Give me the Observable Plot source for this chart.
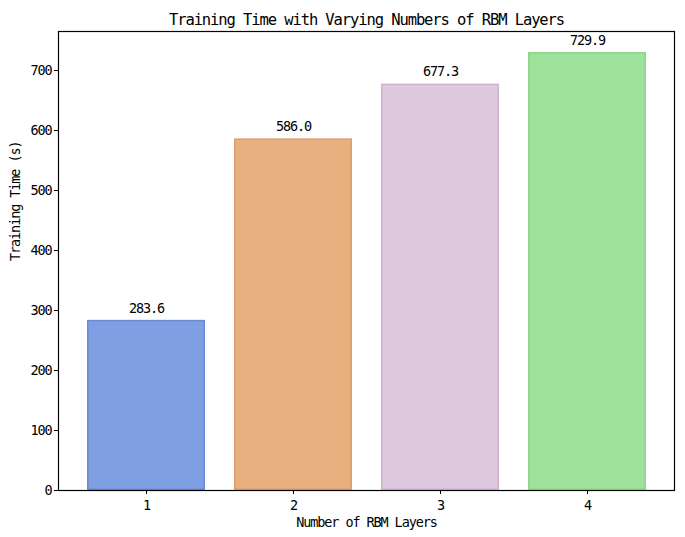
<!DOCTYPE html>
<html>
<head>
<meta charset="utf-8">
<script src="https://cdn.jsdelivr.net/npm/d3@7"></script>
<script src="https://cdn.jsdelivr.net/npm/@observablehq/plot@0.6"></script>
<style>
  body { margin: 0; background: #fff; }
  #chart svg { display: block; }
</style>
</head>
<body>
<div id="chart"></div>
<script>
const layers = ["1", "2", "3", "4"];
const times = [283.6, 586.0, 677.3, 729.9];
const fills = ["#7f9fe2", "#e9b07f", "#dfc9df", "#9fe29b"];
const edges = ["#6a8ad8", "#dc9e6c", "#cfb2cd", "#8bd687"];
const yTicks = [0, 100, 200, 300, 400, 500, 600, 700];
const titleText = "Training Time with Varying Numbers of RBM Layers";
const xLabel = "Number of RBM Layers";
const yLabel = "Training Time (s)";

const data = layers.map((l, i) => ({layer: l, time: times[i], fill: fills[i], edge: edges[i]}));
const font = "'DejaVu Sans Mono', monospace";

const plot = Plot.plot({
  width: 685,
  height: 537,
  marginLeft: 58,
  marginRight: 11,
  marginTop: 31,
  marginBottom: 47,
  style: {fontFamily: font, fontSize: "13.5px", letterSpacing: "-1.1px", color: "#000", background: "#fff"},
  x: {type: "band", domain: layers, paddingInner: 0.2, paddingOuter: 0.19, label: null},
  y: {domain: [0, 765], label: null},
  marks: [
    Plot.barY(data, {x: "layer", y: "time", fill: "fill", stroke: "edge", strokeWidth: 1.5, inset: 0.75}),
    Plot.text(data, {x: "layer", y: "time", text: d => d.time.toFixed(1), dy: -12, fontSize: 13.5, fill: "#000"}),
    Plot.frame({stroke: "#000", strokeWidth: 1.2}),
    Plot.axisY({ticks: yTicks, tickSize: 4, tickPadding: 3, fontSize: 13.5, tickFormat: d => String(d), stroke: "#000", fill: "#000"}),
    Plot.axisX({tickSize: 4, tickPadding: 6, fontSize: 13.5, stroke: "#000", fill: "#000"}),
    Plot.text([yLabel], {frameAnchor: "left", dx: -43, rotate: -90, fontSize: 13.5, fill: "#000", text: d => d}),
    Plot.text([xLabel], {frameAnchor: "bottom", dy: 36, fontSize: 13.5, fill: "#000", text: d => d}),
    Plot.text([titleText], {frameAnchor: "top", dy: -18, fontSize: 15.5, fill: "#000", text: d => d})
  ]
});
document.getElementById("chart").appendChild(plot);
</script>
</body>
</html>
